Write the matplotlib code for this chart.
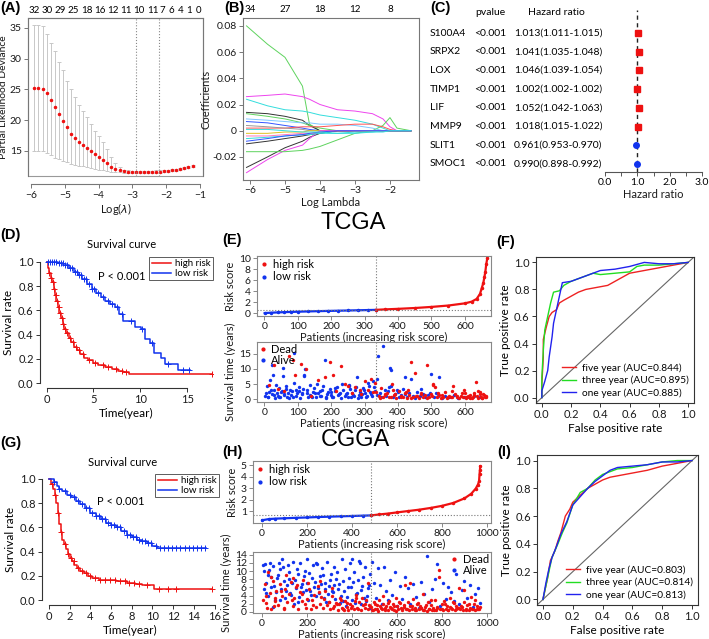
import numpy as np
import matplotlib
matplotlib.use('Agg')
import matplotlib.pyplot as plt
from matplotlib.lines import Line2D
from matplotlib.patches import Rectangle
from matplotlib.transforms import blended_transform_factory

plt.rcParams['font.family'] = ['Lato', 'DejaVu Sans']

# --- (A) lasso cross validation ---
LOGLAM_A = [-5.90, -5.78, -5.66, -5.54, -5.42, -5.30, -5.18, -5.06, -4.94, -4.82,
            -4.70, -4.58, -4.46, -4.34, -4.22, -4.10, -3.98, -3.86, -3.74, -3.62,
            -3.50, -3.38, -3.26, -3.14, -3.02, -2.90, -2.78, -2.66, -2.54, -2.42,
            -2.30, -2.18, -2.06, -1.94, -1.82, -1.70, -1.58, -1.46, -1.34, -1.20]
DEV_A = [25.2, 25.2, 25.1, 24.4, 23.3, 22.2, 21.0, 19.8, 18.8, 17.7,
         17.0, 16.4, 15.9, 15.4, 15.0, 14.5, 14.0, 13.5, 13.0, 12.4,
         12.0, 11.8, 11.65, 11.6, 11.55, 11.55, 11.55, 11.55, 11.55, 11.55,
         11.6, 11.6, 11.65, 11.7, 11.8, 11.9, 12.0, 12.15, 12.3, 12.5]
DEV_HI_A = [35.5, 35.4, 35.3, 34.0, 32.5, 31.2, 29.5, 28.2, 26.4, 25.0,
            23.8, 22.4, 21.5, 20.5, 19.3, 18.3, 17.4, 16.5, 15.3, 14.0,
            13.0, 12.3, 11.9, 11.8, 11.75, 11.75, 11.75, 11.75, 11.75, 11.75,
            11.8, 11.8, 11.85, 11.9, 12.0, 12.1, 12.2, 12.35, 12.5, 12.7]
DEV_LO_A = [15.0, 14.95, 14.9, 14.7, 14.3, 13.9, 13.6, 13.3, 13.1, 12.9,
            12.75, 12.6, 12.45, 12.3, 12.15, 12.0, 11.9, 11.8, 11.7, 11.6,
            11.55, 11.5, 11.45, 11.45, 11.4, 11.4, 11.4, 11.4, 11.4, 11.4,
            11.45, 11.45, 11.5, 11.55, 11.65, 11.75, 11.85, 12.0, 12.15, 12.35]
TOP_POS_A = [-5.90, -5.52, -5.14, -4.74, -4.35, -3.95, -3.57, -3.19, -2.80, -2.40, -2.13, -1.85, -1.58, -1.31, -1.05]
TOP_LAB_A = ['32', '30', '29', '25', '18', '16', '12', '11', '10', '11', '7', '6', '4', '1', '0']
LAMBDA_MIN, LAMBDA_1SE = -2.9, -2.2

# --- (B) coefficient paths ---
LOGLAM_B = [-6.1, -5.5, -5.0, -4.5, -4.3, -4.0, -3.5, -3.0, -2.5, -2.2, -2.0, -1.8, -1.4]
PATHS_B = [
    ('#5ed35e', [0.080, 0.066, 0.056, 0.034, 0.005, 0, 0, 0, 0, 0, 0, 0, 0]),
    ('#ee44ee', [0.026, 0.027, 0.028, 0.026, 0.024, 0.020, 0.016, 0.015, 0.013, 0.009, 0.003, 0, 0]),
    ('#33dddd', [0.024, 0.019, 0.016, 0.015, 0.014, 0.012, 0.010, 0.008, 0.005, 0.002, 0, 0, 0]),
    ('#333333', [0.014, 0.013, 0.011, 0.008, 0.004, 0, 0, 0, 0, 0, 0, 0, 0]),
    ('#5ed35e', [0.013, 0.011, 0.009, 0.006, 0.004, 0.002, 0, 0, 0, 0.004, 0.010, 0.002, 0]),
    ('#7fc8ff', [0.009, 0.008, 0.007, 0.006, 0.006, 0.005, 0.005, 0.004, 0.002, 0, 0, 0, 0]),
    ('#3355ff', [0.007, 0.006, 0.004, 0.002, 0.001, 0, 0, 0, 0, 0, 0, 0, 0]),
    ('#ff5555', [0.002, 0.002, 0.002, 0.003, 0.003, 0.003, 0.004, 0.005, 0.005, 0.003, 0.001, 0, 0]),
    ('#999999', [0.004, 0.003, 0.002, 0.001, 0, 0, 0, 0, 0, 0, 0, 0, 0]),
    ('#e0c020', [-0.002, -0.002, -0.001, -0.001, 0, 0, 0, 0, 0, 0, 0, 0, 0]),
    ('#333333', [-0.010, -0.008, -0.006, -0.004, -0.003, -0.002, 0, 0, 0, 0, 0, 0, 0]),
    ('#333333', [-0.028, -0.020, -0.013, -0.008, -0.005, -0.002, 0, 0, 0, 0, 0, 0, 0]),
    ('#ee44ee', [-0.032, -0.022, -0.015, -0.011, -0.006, 0, 0, 0, 0, 0, 0, 0, 0]),
    ('#5ed35e', [-0.016, -0.016, -0.016, -0.015, -0.014, -0.012, -0.007, -0.002, 0, 0, 0, 0, 0]),
    ('#33dddd', [-0.006, -0.005, -0.004, -0.003, -0.003, -0.002, -0.002, -0.001, -0.001, 0, 0, 0, 0]),
    ('#ff77bb', [-0.004, -0.004, -0.003, -0.002, -0.002, -0.001, 0, 0, 0, 0, 0, 0, 0]),
    ('#3355ff', [-0.008, -0.006, -0.004, -0.003, -0.002, -0.001, 0, 0, 0, 0, 0, 0, 0]),
    ('#33dddd', [0.001, 0.001, 0.0, -0.001, -0.001, -0.001, -0.002, -0.002, -0.001, -0.001, 0, 0, 0]),
]
TOP_POS_B = [-6, -5, -4, -3, -2]
TOP_LAB_B = ['34', '27', '18', '12', '8']

# --- (C) forest plot ---
GENES = ['S100A4', 'SRPX2', 'LOX', 'TIMP1', 'LIF', 'MMP9', 'SLIT1', 'SMOC1']
PVALUES = ['<0.001'] * 8
HR = [1.013, 1.041, 1.046, 1.002, 1.052, 1.018, 0.961, 0.990]
HR_LOW = [1.011, 1.035, 1.039, 1.002, 1.042, 1.015, 0.953, 0.898]
HR_HIGH = [1.015, 1.048, 1.054, 1.002, 1.063, 1.022, 0.970, 0.992]

# --- (D) TCGA Kaplan-Meier ---
D_HIGH_T = [0, 0.15, 0.3, 0.45, 0.6, 0.75, 0.9, 1.05, 1.2, 1.35, 1.5, 1.7, 1.9, 2.1, 2.35, 2.6, 2.9,
            3.2, 3.6, 4.0, 4.4, 4.9, 5.5, 6.2, 7.0, 7.6, 8.2, 8.8]
D_HIGH_S = [1.0, 0.95, 0.91, 0.87, 0.83, 0.78, 0.73, 0.68, 0.63, 0.58, 0.54, 0.49, 0.45, 0.41, 0.37, 0.34, 0.30,
            0.27, 0.24, 0.21, 0.19, 0.17, 0.15, 0.13, 0.115, 0.10, 0.09, 0.077]
D_HIGH_END = 17.6
D_HIGH_CENS = [0.3, 0.5, 0.7, 0.8, 1.0, 1.1, 1.3, 1.4, 1.6, 1.8, 2.0, 2.2, 2.5, 2.8, 3.1, 3.5, 3.9, 4.5,
               5.2, 6.0, 6.6, 7.4, 8.0, 8.5, 17.6]
D_LOW_T = [0, 1.2, 1.8, 2.4, 2.9, 3.3, 3.8, 4.3, 4.8, 5.3, 5.8, 6.2, 6.8, 7.3, 7.7, 8.2, 9.4, 10.1,
           10.5, 11.0, 11.5, 12.2, 12.6, 14.0]
D_LOW_S = [1.0, 0.99, 0.97, 0.95, 0.92, 0.89, 0.86, 0.82, 0.78, 0.74, 0.71, 0.68, 0.65, 0.63, 0.57, 0.51,
           0.46, 0.45, 0.36, 0.33, 0.25, 0.21, 0.16, 0.11]
D_LOW_END = 15.3
D_LOW_CENS = [0.2, 0.4, 0.6, 0.8, 1.0, 1.3, 1.5, 1.7, 2.0, 2.2, 2.5, 2.7, 3.0, 3.2, 3.5, 3.7, 4.0, 4.2,
              4.5, 4.8, 5.1, 5.5, 6.0, 6.5, 7.0, 7.5, 8.0, 9.0, 10.2, 11.2, 13.0, 14.5, 15.2]

# --- (G) CGGA Kaplan-Meier ---
G_HIGH_T = [0, 0.2, 0.4, 0.55, 0.7, 0.85, 1.0, 1.15, 1.3, 1.45, 1.6, 1.8, 2.0, 2.2, 2.45, 2.7, 3.0,
            3.4, 3.8, 4.2, 4.8, 5.6, 6.5, 7.5, 8.3, 9.0, 10.1]
G_HIGH_S = [1.0, 0.96, 0.92, 0.87, 0.8, 0.72, 0.63, 0.56, 0.5, 0.46, 0.42, 0.38, 0.35, 0.32, 0.29, 0.265,
            0.24, 0.22, 0.2, 0.185, 0.17, 0.165, 0.155, 0.145, 0.135, 0.125, 0.09]
G_HIGH_END = 15.8
G_HIGH_CENS = [0.3, 0.6, 0.9, 1.2, 1.5, 1.8, 2.1, 2.4, 2.8, 3.2, 3.6, 4.0, 4.4, 4.9, 5.4, 5.9, 6.4, 6.9,
               7.3, 7.7, 8.2, 8.7, 9.5, 10.6, 11.5, 12.3, 15.8]
G_LOW_T = [0, 0.5, 0.8, 1.0, 1.3, 1.7, 2.1, 2.6, 3.0, 3.5, 4.0, 4.5, 5.0, 5.5, 6.0, 6.5, 7.0, 7.5, 8.0,
           8.5, 9.0, 9.5, 10.0, 10.4]
G_LOW_S = [1.0, 0.97, 0.94, 0.92, 0.9, 0.87, 0.85, 0.82, 0.79, 0.76, 0.72, 0.69, 0.67, 0.64, 0.62, 0.6,
           0.57, 0.54, 0.52, 0.5, 0.49, 0.47, 0.45, 0.43]
G_LOW_END = 15.2
G_LOW_CENS = [0.5, 1.0, 1.5, 2.0, 2.4, 2.8, 3.2, 3.6, 3.9, 4.2, 4.5, 4.8, 5.1, 5.4, 5.7, 6.0, 6.3, 6.6,
              6.9, 7.2, 7.5, 7.8, 8.1, 8.4, 8.7, 9.0, 9.3, 9.6, 9.9, 10.3, 10.7, 11.1, 11.5, 11.9, 12.3,
              12.7, 13.1, 13.5, 13.9, 14.3, 14.7, 15.1]

# --- (E) TCGA risk score and survival status ---
E_CUT_PATIENT, E_CUT_SCORE = 333.5, 0.62
E_LOW_IDX = [1, 20, 40, 60, 80, 100, 130, 160, 190, 220, 250, 280, 310, 333]
E_LOW_SCORE = [0.03, 0.1, 0.15, 0.2, 0.24, 0.28, 0.33, 0.38, 0.42, 0.46, 0.5, 0.54, 0.58, 0.61]
E_HIGH_IDX = [334, 360, 400, 450, 500, 550, 600, 620, 635, 645, 650, 655, 658, 661, 664, 667]
E_HIGH_SCORE = [0.62, 0.7, 0.8, 0.95, 1.15, 1.4, 1.8, 2.1, 2.6, 3.5, 4.5, 5.5, 6.5, 7.5, 9.0, 10.0]
E_ALIVE_X = [3, 8, 12, 15, 18, 22, 26, 30, 33, 37, 41, 45, 48, 52, 56, 60, 64, 68, 72, 76,
             80, 85, 90, 94, 98, 103, 108, 112, 117, 122, 127, 131, 136, 141, 146, 150, 155, 160, 165, 170,
             175, 180, 185, 190, 195, 200, 206, 212, 218, 224, 230, 236, 242, 248, 254, 260, 266, 272, 278, 284,
             290, 296, 302, 308, 314, 320, 326, 331,
             5, 10, 20, 28, 35, 43, 50, 58, 66, 74, 82, 88, 96, 105, 114, 120, 129, 138, 144, 152,
             158, 167, 173, 183, 188, 198, 203, 210, 221, 227, 233, 245, 251, 257, 263, 269, 275, 281, 287, 293,
             299, 305, 311, 317, 323, 329, 24, 55, 119, 252,
             336, 340, 345, 350, 355, 360, 365, 370, 375, 380, 386, 392, 398, 404, 410, 416, 422, 428, 434, 440,
             446, 452, 458, 466, 474, 482, 490, 498, 506, 514, 522, 530, 540, 552, 566, 580, 596, 612, 628, 645,
             338, 372, 378, 420, 495, 520, 470, 400]
E_ALIVE_Y = [1.2, 4.5, 0.8, 2.5, 6.2, 1.8, 8.0, 3.2, 0.5, 2.0, 1.1, 3.6, 0.9, 2.7, 10.3, 1.5, 4.2, 0.6, 2.2, 3.0,
             1.4, 0.7, 15.2, 2.9, 1.9, 4.0, 0.4, 1.6, 3.3, 10.0, 2.1, 0.8, 4.6, 1.2, 2.4, 3.8, 0.6, 1.9, 2.8, 1.0,
             4.3, 13.0, 0.5, 2.3, 3.5, 1.4, 0.9, 2.6, 4.1, 1.7, 0.3, 3.0, 1.1, 2.0, 4.8, 0.7, 1.5, 2.9, 7.2, 1.3,
             0.6, 3.6, 2.2, 1.0, 4.4, 1.8, 6.0, 2.6,
             2.0, 0.6, 3.1, 1.3, 4.7, 0.9, 2.3, 1.7, 3.4, 0.5, 2.6, 5.2, 1.0, 2.8, 1.9, 7.8, 3.0, 1.5, 0.8, 2.2,
             5.0, 1.2, 3.2, 0.7, 1.8, 2.5, 0.9, 3.7, 1.4, 2.1, 4.9, 1.6, 0.8, 3.3, 2.0, 1.1, 4.0, 0.5, 2.5, 1.6,
             3.1, 0.9, 5.3, 2.4, 1.2, 3.9, 11.2, 7.5, 8.0, 4.5,
             1.5, 14.3, 2.2, 0.8, 17.5, 3.0, 1.2, 2.6, 10.2, 9.5, 0.6, 1.8, 2.9, 0.9, 1.4, 3.3, 7.3, 0.7, 2.0, 6.6,
             1.1, 0.5, 2.4, 1.0, 1.7, 0.6, 1.3, 8.3, 0.8, 1.9, 7.2, 0.5, 1.2, 0.7, 1.5, 0.4, 0.9, 0.6, 1.1, 0.8,
             6.8, 3.9, 4.2, 1.6, 2.0, 1.1, 3.5, 2.3]
E_DEAD_X = [15, 28, 75, 85, 92, 110, 125, 180, 195, 205, 230, 250, 262, 270, 285, 300, 310, 318, 325, 40,
            60, 140, 160, 215, 240, 290, 330,
            335, 342, 348, 356, 362, 368, 374, 382, 388, 395, 402, 408, 414, 420, 426, 432, 438, 444, 450, 456,
            462, 468, 474, 480, 486, 492, 498, 504, 510, 516, 522, 528, 534, 540, 546, 552, 558, 564, 570, 576,
            582, 588, 594, 600, 604, 608, 612, 616, 620, 624, 628, 632, 636, 640, 644, 648, 652, 656, 660, 664,
            345, 360, 378, 392, 410, 425, 440, 455, 470, 488, 502, 518, 532, 548, 562, 575, 590, 602, 614, 626,
            638, 650, 662, 385, 430, 505, 560, 597, 645, 655]
E_DEAD_Y = [4.8, 11.2, 14.2, 13.0, 7.9, 11.5, 9.8, 7.3, 12.3, 8.0, 11.0, 4.5, 2.0, 4.0, 3.2, 6.0, 3.0, 6.5, 2.5, 3.5,
            2.8, 1.2, 6.3, 2.6, 5.0, 1.8, 5.5,
            2.5, 1.0, 3.8, 0.6, 1.6, 2.2, 0.9, 5.0, 1.3, 0.5, 2.8, 1.1, 0.7, 1.9, 0.4, 1.5, 12.2, 0.8, 8.5, 1.2,
            0.5, 2.1, 0.9, 1.4, 11.2, 0.6, 1.8, 5.0, 4.0, 0.7, 1.3, 0.5, 0.9, 2.5, 0.4, 1.1, 0.6, 4.2, 1.6, 0.8,
            0.5, 1.2, 0.7, 2.0, 0.4, 1.0, 0.6, 1.5, 0.3, 0.9, 2.2, 5.8, 1.1, 0.5, 1.7, 0.8, 0.4, 1.3, 0.6, 0.9,
            0.3, 1.3, 0.6, 1.7, 0.9, 2.4, 0.5, 1.0, 1.6, 0.4, 1.1, 2.0, 1.4, 0.6, 2.6, 1.0, 1.9, 0.8, 0.5, 1.4,
            2.6, 0.5, 1.2, 3.2, 2.9, 4.6, 0.9, 3.0, 2.4, 1.6]

# --- (H) CGGA risk score and survival status ---
H_CUT_PATIENT, H_CUT_SCORE = 485.5, 0.62
H_LOW_IDX = [1, 30, 60, 100, 150, 200, 250, 300, 350, 400, 450, 485]
H_LOW_SCORE = [0.2, 0.3, 0.34, 0.37, 0.41, 0.44, 0.48, 0.51, 0.54, 0.57, 0.6, 0.62]
H_HIGH_IDX = [486, 520, 560, 600, 650, 700, 750, 800, 850, 900, 930, 950, 960, 965, 967, 969, 970]
H_HIGH_SCORE = [0.62, 0.7, 0.78, 0.88, 1.0, 1.12, 1.27, 1.45, 1.7, 2.1, 2.5, 2.95, 3.3, 3.6, 4.2, 4.6, 4.9]
H_ALIVE_X = [5, 10, 15, 20, 28, 35, 42, 50, 58, 66, 74, 82, 90, 98, 106, 114, 122, 130, 138, 146,
             154, 162, 170, 178, 186, 194, 202, 210, 218, 226, 234, 242, 250, 258, 266, 274, 282, 290, 298, 306,
             314, 322, 330, 338, 346, 354, 362, 370, 378, 386, 394, 402, 410, 418, 426, 434, 442, 450, 458, 466,
             474, 482,
             8, 18, 25, 32, 40, 47, 55, 63, 70, 78, 86, 95, 103, 110, 118, 126, 134, 142, 150, 158,
             166, 174, 182, 190, 198, 206, 214, 222, 230, 238, 246, 254, 262, 270, 278, 286, 294, 302, 310, 318,
             326, 334, 342, 350, 358, 366, 374, 382, 390, 398, 406, 414, 422, 430, 438, 446, 454, 462, 470, 478,
             490, 498, 506, 515, 524, 533, 542, 551, 560, 570, 580, 590, 600, 612, 624, 636, 648, 660, 672, 684,
             696, 708, 720, 732, 744, 756, 768, 780, 792, 804, 816, 828, 840, 852, 864, 876, 888, 900, 912, 924,
             936, 948, 960, 968]
H_ALIVE_Y = [11.5, 10.0, 11.8, 4.5, 9.0, 12.0, 6.0, 11.2, 3.0, 8.2, 12.0, 10.5, 13.0, 7.5, 5.0, 11.5, 9.8, 4.2, 12.3, 7.8,
             10.6, 2.5, 11.9, 6.9, 8.7, 5.4, 12.9, 9.5, 4.1, 11.4, 7.3, 12.0, 5.9, 8.9, 10.8, 3.3, 7.1, 12.2, 6.4, 9.3,
             4.8, 11.0, 8.1, 5.5, 2.1, 12.9, 7.6, 10.4, 3.6, 8.3, 6.2, 13.1, 9.9, 4.4, 7.7, 12.1, 5.3, 8.6, 11.1, 3.9,
             6.7, 9.2,
             5.5, 7.0, 3.8, 10.2, 8.5, 1.2, 6.3, 4.8, 9.1, 2.9, 5.7, 10.9, 3.4, 6.6, 8.0, 4.5, 7.2, 1.8, 5.9, 9.4,
             3.7, 6.1, 4.9, 10.0, 7.0, 2.8, 5.2, 8.4, 6.0, 3.9, 11.8, 4.6, 6.8, 9.0, 5.6, 2.4, 4.3, 7.9, 5.0, 6.5,
             3.1, 9.7, 6.9, 4.0, 2.6, 5.1, 1.5, 6.0, 11.9, 3.0, 7.4, 2.2, 4.7, 12.6, 1.9, 6.4, 3.5, 2.7, 5.8, 0.9,
             12.2, 7.2, 3.5, 10.8, 6.6, 1.8, 11.0, 5.2, 2.9, 7.9, 4.1, 9.8, 1.3, 6.4, 3.2, 8.5, 5.9, 2.0, 6.8, 3.6,
             1.0, 7.3, 4.4, 13.7, 2.3, 5.5, 8.1, 11.8, 1.5, 7.0, 3.1, 6.1, 4.8, 2.6, 9.2, 1.9, 5.4, 7.6, 3.3, 6.5,
             1.1, 4.4, 5.8, 2.2]
H_DEAD_X = [4, 12, 20, 27, 34, 41, 48, 56, 64, 72, 80, 88, 96, 104, 112, 120, 128, 136, 144, 152,
            160, 168, 176, 184, 192, 200, 208, 216, 224, 232, 240, 248, 256, 264, 272, 280, 288, 296, 304, 312,
            320, 328, 336, 344, 352, 360, 368, 376, 384, 392, 400, 408, 416, 424, 432, 440, 448, 456, 464, 472,
            480,
            16, 38, 60, 85, 108, 132, 156, 180, 204, 228, 252, 276, 300, 316, 332, 348, 364, 380, 396, 412,
            428, 444, 460, 476, 24, 52, 100, 140, 196, 260, 310, 355, 420, 470,
            486, 492, 498, 504, 510, 516, 522, 528, 534, 540, 546, 552, 558, 564, 570, 576, 582, 588, 594, 600,
            606, 612, 618, 624, 630, 636, 642, 648, 654, 660, 666, 672, 678, 684, 690, 696, 702, 708, 714, 720,
            726, 732, 738, 744, 750, 756, 762, 768, 774, 780, 786, 792, 798, 804, 810, 816, 822, 828, 834, 840,
            846, 852, 858, 864, 870, 876, 882, 888, 894, 900, 906, 912, 918, 924, 930, 936, 942, 948, 954, 960,
            966,
            489, 501, 513, 525, 537, 549, 561, 573, 585, 597, 609, 621, 633, 645, 657, 669, 681, 693, 705, 717,
            729, 741, 753, 765, 777, 789, 801, 813, 825, 837, 849, 861, 873, 885, 897, 909, 921, 933, 945, 957,
            969]
H_DEAD_Y = [3.0, 6.8, 2.2, 9.7, 4.7, 0.6, 7.5, 2.7, 5.1, 1.6, 6.9, 3.8, 0.9, 5.6, 2.3, 4.4, 7.3, 1.3, 3.5, 6.1,
            0.8, 4.9, 2.6, 7.8, 1.9, 3.2, 5.7, 0.7, 2.9, 4.1, 1.1, 6.4, 2.0, 3.6, 0.9, 5.2, 1.7, 2.5, 0.6, 3.9,
            1.4, 2.2, 0.5, 1.8, 3.0, 0.8, 2.6, 1.2, 0.4, 2.0, 1.5, 0.7, 3.3, 1.0, 2.4, 0.5, 1.6, 0.9, 2.8, 0.6,
            1.3,
            4.0, 8.6, 3.4, 5.0, 9.1, 2.8, 6.6, 4.3, 7.0, 1.6, 4.8, 3.1, 2.3, 0.9, 1.9, 3.4, 0.4, 2.1, 1.0, 2.6,
            0.8, 3.5, 2.0, 1.7, 1.0, 1.3, 0.6, 8.2, 0.9, 7.6, 5.9, 0.9, 4.2, 7.1,
            1.2, 0.5, 2.4, 0.8, 1.6, 0.3, 3.0, 1.0, 0.6, 2.0, 0.9, 1.5, 0.4, 2.7, 1.1, 0.7, 1.9, 0.5, 3.4, 1.3,
            0.6, 2.2, 0.9, 0.4, 1.7, 6.5, 0.8, 2.5, 0.5, 1.4, 0.7, 3.1, 1.0, 0.4, 2.0, 0.6, 1.5, 0.9, 4.3, 0.5,
            1.2, 0.3, 2.3, 0.8, 1.6, 0.5, 0.9, 2.8, 0.4, 1.1, 10.2, 0.6, 1.8, 0.4, 2.6, 0.8, 1.3, 0.5, 3.3, 1.0,
            0.7, 2.1, 0.4, 1.5, 0.9, 5.8, 0.6, 1.2, 0.5, 2.4, 0.8, 1.7, 0.4, 1.0, 3.6, 0.6, 2.0, 0.5, 1.3, 0.8,
            0.6,
            0.4, 1.8, 0.7, 1.3, 4.0, 0.5, 2.1, 0.9, 1.5, 0.3, 2.4, 0.8, 1.1, 0.6, 7.0, 1.4, 0.5, 2.2, 0.9, 0.4,
            1.6, 0.7, 2.9, 0.5, 1.0, 8.5, 0.6, 1.9, 0.4, 1.2, 2.5, 0.7, 0.9, 1.4, 5.3, 0.5, 1.8, 0.8, 2.9, 0.6,
            1.1]

# --- (F) / (I) time dependent ROC ---
F_FIVE_FPR = [0, 0, 0.01, 0.01, 0.03, 0.05, 0.07, 0.1, 0.12, 0.15, 0.2, 0.25, 0.3, 0.35, 0.4, 0.45, 0.5, 0.55, 0.6, 0.65, 0.75, 0.85, 0.9, 1.0]
F_FIVE_TPR = [0, 0.1, 0.3, 0.43, 0.52, 0.6, 0.63, 0.65, 0.7, 0.72, 0.75, 0.78, 0.8, 0.81, 0.82, 0.83, 0.86, 0.89, 0.92, 0.93, 0.95, 0.97, 0.98, 1.0]
F_THREE_FPR = [0, 0, 0.01, 0.02, 0.04, 0.06, 0.08, 0.12, 0.15, 0.2, 0.3, 0.35, 0.4, 0.5, 0.6, 0.65, 0.7, 0.8, 0.9, 1.0]
F_THREE_TPR = [0, 0.15, 0.35, 0.5, 0.6, 0.7, 0.78, 0.79, 0.83, 0.86, 0.9, 0.92, 0.91, 0.92, 0.93, 0.97, 0.98, 0.98, 0.99, 1.0]
F_ONE_FPR = [0, 0, 0.02, 0.04, 0.05, 0.07, 0.08, 0.1, 0.12, 0.14, 0.2, 0.3, 0.4, 0.5, 0.6, 0.7, 0.8, 0.9, 1.0]
F_ONE_TPR = [0, 0.05, 0.12, 0.2, 0.3, 0.45, 0.55, 0.65, 0.75, 0.85, 0.86, 0.9, 0.94, 0.95, 0.97, 1.0, 0.99, 0.99, 1.0]
F_AUC = [0.844, 0.895, 0.885]

I_FIVE_FPR = [0, 0.01, 0.03, 0.05, 0.08, 0.1, 0.12, 0.15, 0.18, 0.2, 0.25, 0.3, 0.35, 0.4, 0.45, 0.5, 0.6, 0.7, 0.8, 0.9, 1.0]
I_FIVE_TPR = [0, 0.05, 0.15, 0.28, 0.35, 0.42, 0.48, 0.6, 0.65, 0.7, 0.75, 0.8, 0.83, 0.86, 0.88, 0.89, 0.91, 0.93, 0.96, 0.98, 1.0]
I_THREE_FPR = [0, 0.02, 0.04, 0.06, 0.1, 0.13, 0.16, 0.2, 0.25, 0.3, 0.35, 0.4, 0.45, 0.5, 0.6, 0.7, 0.8, 0.9, 1.0]
I_THREE_TPR = [0, 0.1, 0.2, 0.3, 0.4, 0.48, 0.55, 0.68, 0.77, 0.8, 0.86, 0.9, 0.92, 0.94, 0.95, 0.97, 0.99, 1.0, 1.0]
I_ONE_FPR = [0, 0.02, 0.04, 0.06, 0.09, 0.12, 0.16, 0.2, 0.25, 0.3, 0.35, 0.4, 0.45, 0.5, 0.6, 0.7, 0.8, 0.9, 1.0]
I_ONE_TPR = [0, 0.12, 0.22, 0.3, 0.38, 0.47, 0.56, 0.68, 0.74, 0.8, 0.85, 0.89, 0.93, 0.95, 0.96, 0.97, 0.99, 0.99, 1.0]
I_AUC = [0.803, 0.814, 0.813]

# --- figure helpers (pixel layout) ---
W, H = 709, 639
fig = plt.figure(figsize=(W / 100, H / 100), dpi=100)


def add_ax(l, t, r, b):
    return fig.add_axes([l / W, 1 - b / H, (r - l) / W, (b - t) / H])


def fx(x):
    return x / W


def fy(y):
    return 1 - y / H


def style(ax, color='#777777', box=True, size=7.5):
    for side, sp in ax.spines.items():
        sp.set_color(color)
        sp.set_linewidth(0.8)
        if not box and side in ('top', 'right'):
            sp.set_visible(False)
    ax.tick_params(direction='out', length=3, width=0.7, color=color, labelcolor='#1a1a1a',
                   labelsize=size, pad=1.5)


LBL = dict(fontsize=8, color='#1a1a1a')

# ===== (A) =====
axa = add_ax(28, 18, 203, 176)
dev = np.array(DEV_A)
axa.errorbar(LOGLAM_A, DEV_A, yerr=[dev - np.array(DEV_LO_A), np.array(DEV_HI_A) - dev], fmt='none',
             ecolor='#c8c8c8', elinewidth=0.7, capsize=1.6, capthick=0.7)
axa.plot(LOGLAM_A, DEV_A, 'o', color='#ee1111', ms=1.5)
axa.axvline(LAMBDA_MIN, color='#888888', ls=':', lw=0.8)
axa.axvline(LAMBDA_1SE, color='#888888', ls=':', lw=0.8)
axa.set_xlim(-6.09, -0.91)
axa.set_ylim(10.9, 36.6)
style(axa)
axa.spines['bottom'].set_position(('outward', 6))
axa.spines['bottom'].set_bounds(-6, -1)
axa.add_patch(Rectangle((0, 0), 1, 1, transform=axa.transAxes, fill=False, ec='#999999', lw=0.8, clip_on=False))
axa.set_xticks([-6, -5, -4, -3, -2, -1])
axa.set_yticks([15, 20, 25, 30, 35])
axa.set_xlabel('Log($\\lambda$)', labelpad=1, **LBL)
axa.set_ylabel('Partial Likelihood Deviance', fontsize=7.5, color='#1a1a1a')
axa.yaxis.set_label_coords(-0.115, 0.5)
ta = blended_transform_factory(axa.transData, axa.transAxes)
for p, s in zip(TOP_POS_A, TOP_LAB_A):
    axa.text(p, 1.05, s, transform=ta, ha='center', va='center', fontsize=7)

# ===== (B) =====
axb = add_ax(243, 18, 419, 180)
for col, vals in PATHS_B:
    axb.plot(LOGLAM_B, vals, color=col, lw=0.7)
axb.set_xlim(-6.2, -1.17)
axb.set_ylim(-0.0376, 0.086)
style(axb)
axb.set_xticks([-6, -5, -4, -3, -2])
axb.set_yticks([-0.02, 0, 0.02, 0.04, 0.06, 0.08])
axb.set_yticklabels(['-0.02', '0', '0.02', '0.04', '0.06', '0.08'])
axb.set_xlabel('Log Lambda', labelpad=1, **LBL)
axb.set_ylabel('Coefficients', labelpad=1, **LBL)
tb = blended_transform_factory(axb.transData, axb.transAxes)
for p, s in zip(TOP_POS_B, TOP_LAB_B):
    axb.text(p, 1.05, s, transform=tb, ha='center', va='center', fontsize=7)

# ===== (C) =====
axc = add_ax(605, 10, 702, 172)
rows = np.arange(len(GENES))
axc.set_xlim(0, 3)
axc.set_ylim(7.43, -1.23)
axc.axvline(1, color='#222222', ls=(0, (3, 2.5)), lw=1)
axc.hlines(rows, HR_LOW, HR_HIGH, color='#333333', lw=0.8)
for i, h in enumerate(HR):
    if h > 1:
        axc.plot(h, i, 's', color='#ee1111', ms=4)
    else:
        axc.plot(h, i, 'o', color='#1133ee', ms=4)
for side in ('top', 'right', 'left'):
    axc.spines[side].set_visible(False)
axc.spines['bottom'].set_color('#555555')
axc.set_yticks([])
axc.set_xticks([0, 0.5, 1, 1.5, 2, 2.5, 3])
axc.set_xticklabels(['0.0', '', '1.0', '', '2.0', '', '3.0'])
axc.tick_params(axis='x', direction='out', length=3, width=0.7, color='#555555', labelsize=7.5, pad=1.5)
axc.set_xlabel('Hazard ratio', labelpad=1.5, **LBL)
tc = blended_transform_factory(fig.transFigure, axc.transData)
axc.text(fx(475), -1.07, 'pvalue', transform=tc, fontsize=7.5, va='center')
axc.text(fx(528), -1.07, 'Hazard ratio', transform=tc, fontsize=7.5, va='center')
for i, g in enumerate(GENES):
    axc.text(fx(430), i, g, transform=tc, fontsize=7.5, va='center')
    axc.text(fx(474), i, PVALUES[i], transform=tc, fontsize=7.5, va='center')
    axc.text(fx(514), i, f'{HR[i]:.3f}({HR_LOW[i]:.3f}-{HR_HIGH[i]:.3f})', transform=tc, fontsize=7.5, va='center')


# ===== Kaplan-Meier panels =====
def km_panel(ax, curves, xmax_tick, xstep, p_xy, title_xy):
    for t, s, end, cens, col in curves:
        ax.step(list(t) + [end], list(s) + [s[-1]], where='post', color=col, lw=1.1)
        idx = np.searchsorted(t, cens, side='right') - 1
        ax.plot(cens, np.array(s)[idx], '+', color=col, ms=4, mew=0.7)
    style(ax, color='#333333', box=False, size=8)
    ax.spines['left'].set_bounds(0, 1)
    ax.spines['bottom'].set_bounds(0, xmax_tick)
    ax.set_xticks(np.arange(0, xmax_tick + 0.1, xstep))
    ax.set_yticks([0, 0.2, 0.4, 0.6, 0.8, 1.0])
    ax.set_yticklabels(['0.0', '0.2', '0.4', '0.6', '0.8', '1.0'])
    ax.set_ylim(-0.04, 1.04)
    ax.set_xlabel('Time(year)', labelpad=2, fontsize=8.5)
    ax.set_ylabel('Survival rate', labelpad=3, fontsize=8.5)
    ax.text(p_xy[0], p_xy[1], 'P < 0.001', ha='center', va='center', fontsize=8)
    fig.text(fx(title_xy[0]), fy(title_xy[1]), 'Survival curve', ha='center', va='center', fontsize=8)
    handles = [Line2D([], [], color='#ee1111', lw=1.1), Line2D([], [], color='#1133ee', lw=1.1)]
    leg = ax.legend(handles, ['high risk', 'low risk'], loc='upper right', bbox_to_anchor=(1.0, 1.0),
                    borderaxespad=0, fontsize=7, frameon=True, fancybox=False, handlelength=2.0,
                    handletextpad=0.4, borderpad=0.25, labelspacing=0.05)
    leg.get_frame().set_edgecolor('#333333')
    leg.get_frame().set_linewidth(0.7)


axd = add_ax(40, 257, 213, 388)
axd.set_xlim(-0.7, 17.75)
km_panel(axd, [(D_HIGH_T, D_HIGH_S, D_HIGH_END, D_HIGH_CENS, '#ee1111'),
               (D_LOW_T, D_LOW_S, D_LOW_END, D_LOW_CENS, '#1133ee')],
         15, 5, (8.0, 0.876), (122, 245))

axg = add_ax(42, 474, 219, 605)
axg.set_xlim(-0.68, 16.43)
km_panel(axg, [(G_HIGH_T, G_HIGH_S, G_HIGH_END, G_HIGH_CENS, '#ee1111'),
               (G_LOW_T, G_LOW_S, G_LOW_END, G_LOW_CENS, '#1133ee')],
         16, 2, (6.9, 0.81), (123, 463))


# ===== risk score / status panels =====
def risk_panels(ax1, ax2, low_i, low_s, high_i, high_s, cut_p, cut_s,
                alive_x, alive_y, dead_x, dead_y, status_loc):
    ax1.plot(low_i, low_s, '-o', color='#1133ee', lw=1.6, ms=1.5)
    ax1.plot(high_i, high_s, '-o', color='#ee1111', lw=1.6, ms=1.5)
    ax1.axhline(cut_s, color='#777777', ls=':', lw=0.8)
    ax1.axvline(cut_p, color='#777777', ls=':', lw=0.8)
    ax2.scatter(alive_x, alive_y, s=6, color='#1133ee', lw=0, zorder=2)
    ax2.scatter(dead_x, dead_y, s=6, color='#ee1111', lw=0, zorder=3)
    ax2.axvline(cut_p, color='#777777', ls=':', lw=0.8)
    for ax in (ax1, ax2):
        style(ax, color='#888888')
        ax.set_xlabel('Patients (increasing risk score)', labelpad=0.5, **LBL)
    ax1.set_ylabel('Risk score', labelpad=2, **LBL)
    ax2.set_ylabel('Survival time (years)', labelpad=2, **LBL)
    h1 = [Line2D([], [], ls='', marker='o', ms=2, color='#ee1111'),
          Line2D([], [], ls='', marker='o', ms=2, color='#1133ee')]
    ax1.legend(h1, ['high risk', 'low risk'], loc='upper left', frameon=False, fontsize=8,
               handlelength=0.6, handletextpad=0.5, borderaxespad=0.1, borderpad=0.2, labelspacing=0.1)
    ax2.legend(h1, ['Dead', 'Alive'], loc=status_loc, frameon=False, fontsize=8,
               handlelength=0.6, handletextpad=0.5, borderaxespad=0.1, borderpad=0.1, labelspacing=0.0)


axe1 = add_ax(257, 256, 491, 316)
axe2 = add_ax(257, 342, 491, 402)
risk_panels(axe1, axe2, E_LOW_IDX, E_LOW_SCORE, E_HIGH_IDX, E_HIGH_SCORE, E_CUT_PATIENT, E_CUT_SCORE,
            E_ALIVE_X, E_ALIVE_Y, E_DEAD_X, E_DEAD_Y, 'upper left')
for ax in (axe1, axe2):
    ax.set_xlim(-22, 678)
    ax.set_xticks([0, 100, 200, 300, 400, 500, 600])
axe1.set_ylim(-0.5, 10.4)
axe1.set_yticks([0, 2, 4, 6, 8, 10])
axe2.set_ylim(-0.9, 18.8)
axe2.set_yticks([0, 5, 10, 15])

axh1 = add_ax(253, 461, 491, 523)
axh2 = add_ax(253, 552, 491, 613)
risk_panels(axh1, axh2, H_LOW_IDX, H_LOW_SCORE, H_HIGH_IDX, H_HIGH_SCORE, H_CUT_PATIENT, H_CUT_SCORE,
            H_ALIVE_X, H_ALIVE_Y, H_DEAD_X, H_DEAD_Y, 'upper right')
for ax in (axh1, axh2):
    ax.set_xlim(-40, 1018)
    ax.set_xticks([0, 200, 400, 600, 800, 1000])
axh1.set_ylim(-0.04, 5.35)
axh1.set_yticks([1, 2, 3, 4, 5])
axh2.set_ylim(-0.3, 14.7)
axh2.set_yticks([0, 2, 4, 6, 8, 10, 12, 14])


# ===== ROC panels =====
def roc_panel(ax, five, three, one, auc):
    ax.plot([-0.04, 1.04], [-0.04, 1.04], color='#666666', lw=0.8)
    ax.plot(five[0], five[1], color='#ee2222', lw=1)
    ax.plot(three[0], three[1], color='#22dd22', lw=1)
    ax.plot(one[0], one[1], color='#2222ee', lw=1)
    ax.set_xlim(-0.04, 1.04)
    ax.set_ylim(-0.04, 1.04)
    style(ax, color='#333333', size=8)
    ticks = [0, 0.2, 0.4, 0.6, 0.8, 1.0]
    ax.set_xticks(ticks)
    ax.set_yticks(ticks)
    ax.set_xticklabels([f'{v:.1f}' for v in ticks])
    ax.set_yticklabels([f'{v:.1f}' for v in ticks])
    ax.set_xlabel('False positive rate', labelpad=2, fontsize=8.5)
    ax.set_ylabel('True positive rate', labelpad=2, fontsize=8.5)
    handles = [Line2D([], [], color=c, lw=1) for c in ('#ee2222', '#22dd22', '#2222ee')]
    labels = [f'five year (AUC={auc[0]:.3f})', f'three year (AUC={auc[1]:.3f})', f'one year (AUC={auc[2]:.3f})']
    ax.legend(handles, labels, loc='lower right', frameon=False, fontsize=7.3, handlelength=1.4,
              handletextpad=0.6, borderaxespad=0.1, labelspacing=0.3)


axf = add_ax(536, 257, 694, 403)
roc_panel(axf, (F_FIVE_FPR, F_FIVE_TPR), (F_THREE_FPR, F_THREE_TPR), (F_ONE_FPR, F_ONE_TPR), F_AUC)
axi = add_ax(537, 455, 698, 605)
roc_panel(axi, (I_FIVE_FPR, I_FIVE_TPR), (I_THREE_FPR, I_THREE_TPR), (I_ONE_FPR, I_ONE_TPR), I_AUC)

# ===== panel letters and cohort titles =====
PANEL_LABELS = [('(A)', 0, 8), ('(B)', 224, 8), ('(C)', 430, 8), ('(D)', 0, 235), ('(E)', 222, 240),
                ('(F)', 496, 242), ('(G)', 0, 443), ('(H)', 222, 452), ('(I)', 497, 452)]
for lab, x, y in PANEL_LABELS:
    fig.text(fx(x), fy(y), lab, fontsize=10.5, fontweight='bold', family='Liberation Sans',
             ha='left', va='center')
fig.text(fx(353), fy(223), 'TCGA', fontsize=17, family='Liberation Sans', ha='center', va='center')
fig.text(fx(355), fy(440), 'CGGA', fontsize=17, family='Liberation Sans', ha='center', va='center')

fig.savefig('out.png', dpi=100)
